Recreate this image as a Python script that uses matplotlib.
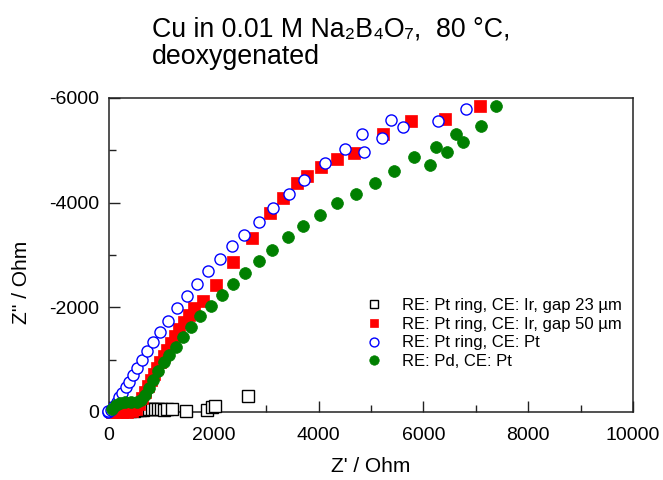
import matplotlib
matplotlib.use("Agg")
import matplotlib.pyplot as plt
from matplotlib.ticker import MultipleLocator

plt.rcParams['font.family'] = ['Liberation Sans', 'DejaVu Sans']

# ---- data (Z' / Ohm, Z'' / Ohm) ----
labels = ["RE: Pt ring, CE: Ir, gap 23 µm",
          "RE: Pt ring, CE: Ir, gap 50 µm",
          "RE: Pt ring, CE: Pt",
          "RE: Pd, CE: Pt"]

gap23_zre = [401, 477, 534, 592, 649, 706, 763, 821, 878, 935, 992, 1050, 1107, 1202,
             1469, 1870, 1966, 2023, 2653]
gap23_zim = [-19, -19, -38, -38, -38, -57, -57, -57, -57, -57, -57, -38, -57, -57,
             -19, -38, -96, -115, -306]

gap50_zre = [57, 153, 248, 344, 439, 515, 573, 630, 687, 744, 802, 859, 916, 973, 1050,
             1107, 1183, 1260, 1336, 1431, 1527, 1622, 1794, 2042, 2366, 2729, 3073, 3321,
             3588, 3779, 4046, 4351, 4676, 5229, 5764, 6412, 7080]
gap50_zim = [0, 0, 0, 0, -19, -57, -153, -268, -382, -497, -611, -726, -841, -955, -1070,
             -1185, -1318, -1452, -1586, -1720, -1854, -1987, -2121, -2427, -2866, -3325,
             -3803, -4089, -4376, -4510, -4681, -4834, -4949, -5312, -5560, -5599, -5847]

ptce_zre = [-20, -10, 38, 95, 153, 191, 248, 324, 382, 458, 534, 630, 725, 840, 973, 1126,
            1298, 1489, 1679, 1889, 2118, 2347, 2576, 2863, 3130, 3435, 3721, 4122, 4504,
            4828, 4866, 5210, 5382, 5611, 6279, 6813]
ptce_zim = [0, -10, -38, -115, -191, -287, -363, -478, -573, -707, -841, -994, -1166, -1338,
            -1529, -1739, -1987, -2217, -2446, -2694, -2924, -3172, -3382, -3631, -3898,
            -4166, -4433, -4758, -5025, -5312, -4968, -5236, -5580, -5446, -5560, -5790]

pd_zre = [57, 134, 210, 305, 420, 534, 611, 687, 763, 840, 935, 1050, 1145, 1279, 1412,
          1565, 1737, 1947, 2157, 2366, 2595, 2863, 3111, 3416, 3702, 4026, 4351, 4714,
          5076, 5439, 5821, 6126, 6240, 6450, 6622, 6756, 7099, 7385]
pd_zim = [-57, -134, -172, -191, -191, -191, -229, -325, -459, -611, -783, -955, -1089,
          -1242, -1433, -1624, -1834, -2025, -2236, -2446, -2656, -2885, -3096, -3344,
          -3554, -3764, -3994, -4166, -4376, -4605, -4873, -4720, -5064, -4968, -5312,
          -5159, -5465, -5847]

x_ticks = [0, 2000, 4000, 6000, 8000, 10000]
y_ticks = [0, -2000, -4000, -6000]

# ---- figure ----
W, H = 663, 480
fig = plt.figure(figsize=(W / 100, H / 100), dpi=100)
ax = fig.add_axes([109 / W, 1 - 412 / H, (633 - 109) / W, (412 - 98) / H])

ax.plot(gap23_zre, gap23_zim, ls='none', marker='s', ms=8, mfc='white', mec='black',
        mew=1.0, label=labels[0], zorder=3, clip_on=False)
ax.plot(gap50_zre, gap50_zim, ls='none', marker='s', ms=8, mfc='red', mec='red',
        mew=0.5, label=labels[1], zorder=4, clip_on=False)
ax.plot(ptce_zre, ptce_zim, ls='none', marker='o', ms=8, mfc='white', mec='blue',
        mew=1.0, label=labels[2], zorder=5, clip_on=False)
ax.plot(pd_zre, pd_zim, ls='none', marker='o', ms=8.5, mfc='green', mec='green',
        mew=0.5, label=labels[3], zorder=6, clip_on=False)

ax.set_xlim(0, 10000)
ax.set_ylim(0, -6000)
ax.set_xticks(x_ticks)
ax.set_yticks(y_ticks)
ax.set_xticklabels([str(v) for v in x_ticks])
ax.set_yticklabels([str(v) for v in y_ticks])
ax.xaxis.set_minor_locator(MultipleLocator(1000))
ax.yaxis.set_minor_locator(MultipleLocator(1000))
ax.tick_params(which='both', direction='in', top=False, right=False, colors='#222222',
               labelcolor='black', labelsize=14)
ax.tick_params(axis='x', which='both', pad=11)
ax.tick_params(axis='y', which='both', pad=7)
ax.tick_params(which='major', length=8, width=1.0)
ax.tick_params(which='minor', length=5, width=1.0)
for s in ax.spines.values():
    s.set_linewidth(1.1)
    s.set_color('#222222')
    s.set_zorder(2)

ax.set_xlabel("Z' / Ohm", fontsize=15)
ax.set_ylabel("Z'' / Ohm", fontsize=15)
ax.xaxis.set_label_coords(0.5, -(457 - 412) / 314)
ax.yaxis.set_label_coords(-(109 - 31) / 524, (412 - 282) / 314)

leg = ax.legend(loc='upper left', bbox_to_anchor=((364 - 109) / 524, (412 - 298) / 314),
                frameon=False, fontsize=12, markerscale=0.8, handlelength=1.2,
                handletextpad=1.1, labelspacing=0.22, borderpad=0, borderaxespad=0)

fig.text(152 / W, 1 - 36 / H, "Cu in 0.01 M Na₂B₄O₇,  80 °C,", fontsize=19.3, va='baseline')
fig.text(152 / W, 1 - 64 / H, "deoxygenated", fontsize=19.3, va='baseline')

fig.savefig("out.png", dpi=100)
